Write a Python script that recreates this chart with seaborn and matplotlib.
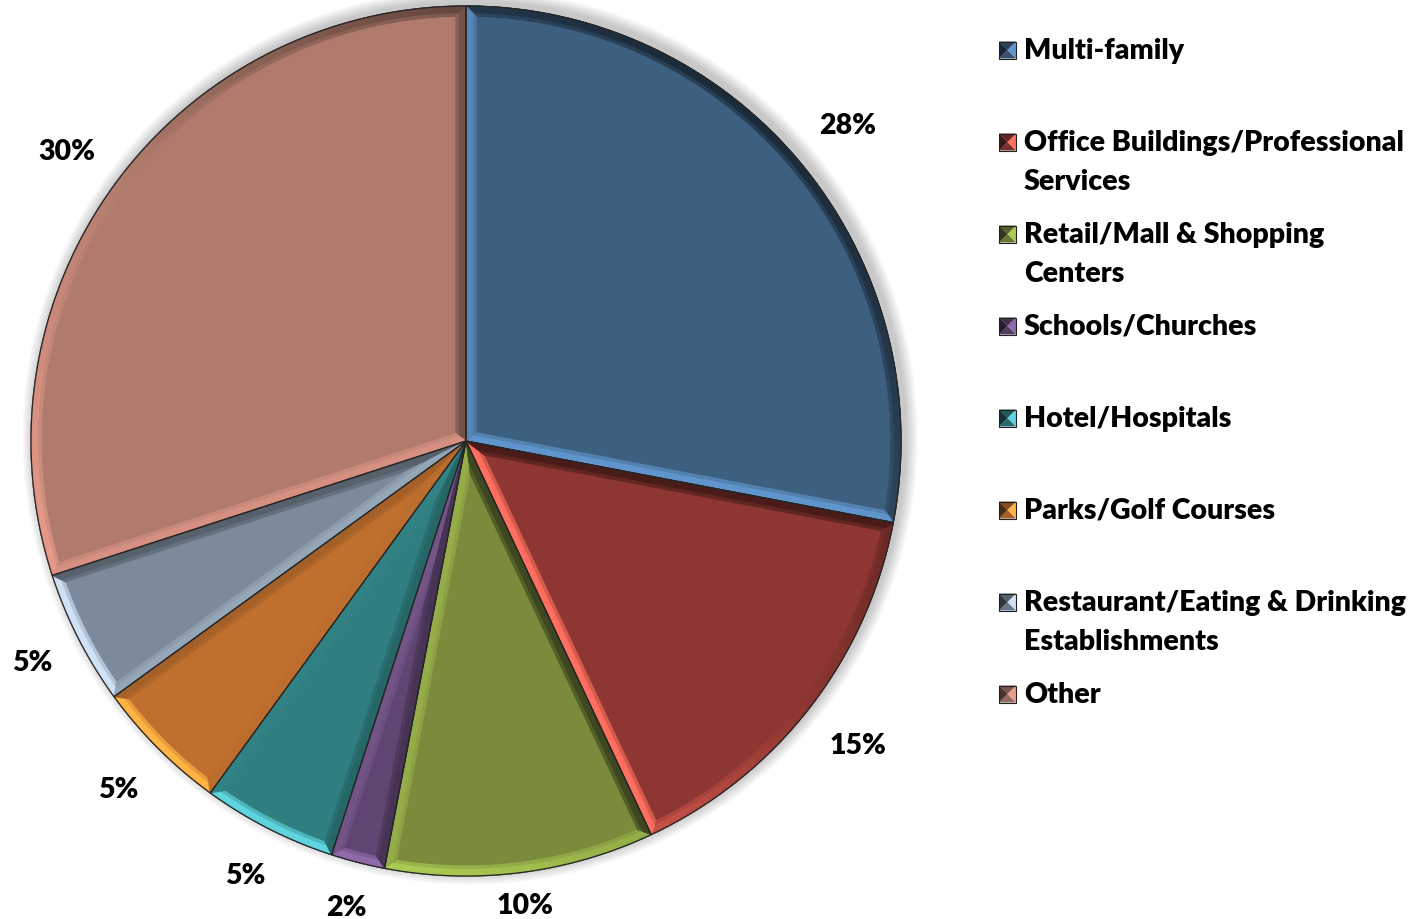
import textwrap
import numpy as np
import matplotlib
matplotlib.use("Agg")
import matplotlib.pyplot as plt
from matplotlib.patches import Polygon, Circle
from matplotlib.colors import to_rgb
import seaborn as sns

# Building types and their share of the total
categories = [
    "Multi-family",
    "Office Buildings/Professional Services",
    "Retail/Mall & Shopping Centers",
    "Schools/Churches",
    "Hotel/Hospitals",
    "Parks/Golf Courses",
    "Restaurant/Eating & Drinking Establishments",
    "Other",
]
shares = [28, 15, 10, 2, 5, 5, 5, 30]

# Slice face colours and the lit bevel colours
face_colors = ["#3d5f80", "#8e3631", "#7a8b3c", "#5f4571",
               "#2f7e80", "#c0702e", "#7b8b9b", "#b07b6d"]
light_colors = ["#5f95cc", "#ff6e5e", "#aacb52", "#8f6aa9",
                "#5fd4de", "#ffb443", "#cfe2f6", "#eb9c8c"]

# distance of each percentage label from the centre, in radii
label_radius = [1.14, 1.14, 1.075, 1.105, 1.12, 1.13, 1.12, 1.135]

sns.set_theme(style="white")
plt.rcParams["font.family"] = ["Lato", "DejaVu Sans"]

W, H = 1424, 920
fig = plt.figure(figsize=(W / 100, H / 100), dpi=100)
ax = fig.add_axes([0, 0, 1, 1])

CX, CY, R = 466, 478, 435
FS = 20.5
WEIGHT = "heavy"

# soft shadow around the disc
for j in range(14):
    ax.add_patch(Circle((CX + 4, CY + 4), R + 1 + j * 0.9, facecolor="#505050",
                        edgecolor="none", alpha=0.022, zorder=0))

wedges, _, pct_texts = ax.pie(
    shares, colors=face_colors, startangle=90, counterclock=False,
    center=(CX, CY), radius=R, autopct="%1.0f%%", pctdistance=1.13,
    wedgeprops=dict(linewidth=0.9, edgecolor="#2a2a2a"),
    textprops=dict(fontsize=FS, fontweight=WEIGHT, color="black"),
)
for w in wedges:
    w.set_zorder(2)

LIGHT = np.array([-0.62, -0.78])
BEVEL = 11


def shade(face, lit, b):
    f = np.array(to_rgb(face))
    if b >= 0:
        return tuple(f + (np.array(to_rgb(lit)) - f) * min(b * 1.15, 1))
    return tuple(f * (1 - 0.55 * min(-b, 1)))


def unit(deg):
    a = np.radians(deg)
    return np.array([np.cos(a), np.sin(a)])


def blend(a, b, t):
    return tuple(np.array(a) * (1 - t) + np.array(to_rgb(b)) * t)


# bevelled rim on every slice, lit from the lower left
for w, fc, lc, lr, txt in zip(wedges, face_colors, light_colors, label_radius, pct_texts):
    c = np.array(w.center)
    t1, t2, r = w.theta1, w.theta2, w.r
    txt.set_position(tuple(c + unit((t1 + t2) / 2) * r * lr))
    txt.set_zorder(6)
    half = np.radians(t2 - t1) / 2
    # two steps across the rim: softer outside band, full shade next to the edge
    for bev, soft in ((BEVEL, 0.35), (BEVEL * 0.6, 0.0)):
        apex = c + unit((t1 + t2) / 2) * (bev / np.sin(half))
        ri = r - bev
        da = np.degrees(np.arcsin(bev / ri))
        i1, i2 = t1 + da, t2 - da
        n = max(int((t2 - t1) / 1.5), 4)
        outer = np.linspace(t1, t2, n + 1)
        inner = np.linspace(i1, i2, n + 1)
        kw = dict(zorder=3, linewidth=0.6)
        for k in range(n):
            pts = [c + unit(outer[k]) * r, c + unit(outer[k + 1]) * r,
                   c + unit(inner[k + 1]) * ri, c + unit(inner[k]) * ri]
            col = blend(shade(fc, lc, unit((outer[k] + outer[k + 1]) / 2) @ LIGHT), fc, soft)
            ax.add_patch(Polygon(pts, closed=True, facecolor=col, edgecolor=col, **kw))
        col1 = blend(shade(fc, lc, unit(t1 - 90) @ LIGHT), fc, soft)
        ax.add_patch(Polygon([c, c + unit(t1) * r, c + unit(i1) * ri, apex],
                             closed=True, facecolor=col1, edgecolor=col1, **kw))
        col2 = blend(shade(fc, lc, unit(t2 + 90) @ LIGHT), fc, soft)
        ax.add_patch(Polygon([c, apex, c + unit(i2) * ri, c + unit(t2) * r],
                             closed=True, facecolor=col2, edgecolor=col2, **kw))
    # flat top of the slice
    apex = c + unit((t1 + t2) / 2) * (BEVEL / np.sin(half))
    ri = r - BEVEL
    da = np.degrees(np.arcsin(BEVEL / ri))
    top = [apex] + [c + unit(a) * ri for a in np.linspace(t1 + da, t2 - da, 60)]
    ax.add_patch(Polygon(top, closed=True, facecolor=fc, edgecolor=fc,
                         linewidth=0.5, zorder=4))
    # outline
    outline = [c] + [c + unit(a) * r for a in np.linspace(t1, t2, 120)]
    ax.add_patch(Polygon(outline, closed=True, facecolor="none",
                         edgecolor="#262626", linewidth=0.9, zorder=5))

ax.set_xlim(0, W)
ax.set_ylim(0, H)
ax.set_aspect("equal")
ax.axis("off")

# legend: one 92 px slot per entry, wrapped over two lines where needed
slot_top, slot_step, line_step = 51, 92, 39
sq = 17
for i, (name, fc, lc) in enumerate(zip(categories, face_colors, light_colors)):
    lines = textwrap.wrap(name, width=29)
    y0 = H - (slot_top + i * slot_step)
    x0, y_lo = 999, y0 - sq / 2
    f = np.array(to_rgb(fc))
    corners = [(x0, y_lo), (x0 + sq, y_lo), (x0 + sq, y_lo + sq), (x0, y_lo + sq)]
    mid = (x0 + sq / 2, y0)
    tri_cols = [tuple(f * 0.85), tuple(np.array(to_rgb(lc))),
                tuple(f * 0.7), tuple(f * 0.4)]
    for k in range(4):
        ax.add_patch(Polygon([corners[k], corners[(k + 1) % 4], mid], closed=True,
                             facecolor=tri_cols[k], edgecolor="none", zorder=6))
    ax.add_patch(Polygon(corners, closed=True, facecolor="none",
                         edgecolor="#222222", linewidth=0.8, zorder=7))
    for j, line in enumerate(lines):
        ax.text(1024, y0 - j * line_step, line, fontsize=FS, fontweight=WEIGHT,
                va="center", ha="left", color="black", zorder=7)

fig.savefig("out.png", dpi=100, facecolor="white")
